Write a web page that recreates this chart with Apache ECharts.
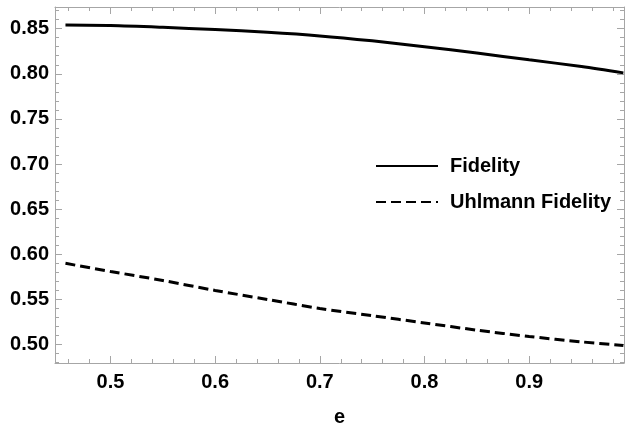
<!DOCTYPE html>
<html>
<head>
<meta charset="utf-8">
<script src="https://cdn.jsdelivr.net/npm/echarts@6/dist/echarts.min.js"></script>
<style>html,body{margin:0;padding:0;background:#fff}#c{width:629px;height:427px}</style>
</head>
<body>
<div id="c"></div>
<script>
const eValues = [0.457, 0.5, 0.55, 0.6, 0.65, 0.7, 0.75, 0.8, 0.85, 0.9, 0.95, 0.99];
const fidelity = [0.854, 0.8535, 0.8515, 0.849, 0.846, 0.842, 0.8365, 0.830, 0.823, 0.8155, 0.808, 0.801];
const uhlmann = [0.590, 0.581, 0.571, 0.560, 0.550, 0.540, 0.532, 0.524, 0.516, 0.509, 0.503, 0.499];
const seriesNames = ['Fidelity', 'Uhlmann Fidelity'];
const xRange = [0.447, 0.9906];
const yRange = [0.4796, 0.874];

const frame = '#a6a6a6';
const font = '"Liberation Sans", Arial, sans-serif';
function pairs(xs, ys) { return xs.map((x, i) => [x, ys[i]]); }

function xAx(pos, labels) {
  return {
    type: 'value', position: pos, min: xRange[0], max: xRange[1], splitNumber: 5,
    name: labels ? 'e' : '', nameLocation: 'middle', nameGap: 44,
    nameTextStyle: { fontFamily: font, fontWeight: 'bold', fontSize: 20, color: '#000' },
    axisLine: { show: true, onZero: false, lineStyle: { color: frame, width: 1 } },
    axisTick: { show: true, inside: true, length: 7, lineStyle: { color: frame } },
    minorTick: { show: true, splitNumber: 5, length: 4, lineStyle: { color: frame } },
    axisLabel: { show: labels, margin: 9, fontFamily: font, fontWeight: 'bold', fontSize: 20, color: '#000',
      showMinLabel: false, showMaxLabel: false, formatter: v => v.toFixed(1) },
    splitLine: { show: false }
  };
}
function yAx(pos, labels) {
  return {
    type: 'value', position: pos, min: yRange[0], max: yRange[1], splitNumber: 8,
    axisLine: { show: true, onZero: false, lineStyle: { color: frame, width: 1 } },
    axisTick: { show: true, inside: true, length: 7, lineStyle: { color: frame } },
    minorTick: { show: true, splitNumber: 5, length: 4, lineStyle: { color: frame } },
    axisLabel: { show: labels, margin: 6, fontFamily: font, fontWeight: 'bold', fontSize: 20, color: '#000',
      showMinLabel: false, showMaxLabel: false, formatter: v => v.toFixed(2) },
    splitLine: { show: false }
  };
}

const chart = echarts.init(document.getElementById('c'), null, { renderer: 'canvas' });
chart.setOption({
  animation: false,
  backgroundColor: '#fff',
  grid: { left: 55, right: 5, top: 7, bottom: 64, containLabel: false, outerBoundsMode: 'none' },
  xAxis: [xAx('bottom', true), xAx('top', false)],
  yAxis: [yAx('left', true), yAx('right', false)],
  legend: {
    orient: 'vertical', left: 370, top: 151,
    itemWidth: 62, itemHeight: 20, itemGap: 16,
    itemStyle: { color: 'rgba(0,0,0,0)', borderColor: 'rgba(0,0,0,0)', borderWidth: 0 },
    textStyle: { fontFamily: font, fontWeight: 'bold', fontSize: 20, color: '#000', padding: [0, 0, 0, 7] },
    data: seriesNames
  },
  series: [
    { name: seriesNames[0], type: 'line', data: pairs(eValues, fidelity), symbol: 'none', smooth: 0.3,
      lineStyle: { color: '#000', width: 3 }, itemStyle: { color: '#000' } },
    { name: seriesNames[1], type: 'line', data: pairs(eValues, uhlmann), symbol: 'none', smooth: 0.3,
      lineStyle: { color: '#000', width: 3, type: [10, 5] }, itemStyle: { color: '#000' } }
  ]
});
</script>
</body>
</html>
